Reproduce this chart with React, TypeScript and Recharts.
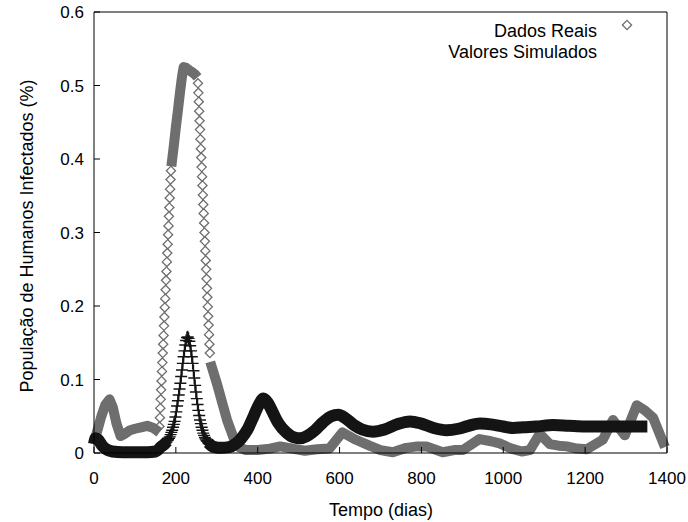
import { LineChart, Line, XAxis, YAxis, Label } from 'recharts';

const FONT = '"Liberation Sans", Arial, Helvetica, sans-serif';
const GRAY = '#6e6e6e';
const BLACK = '#141414';

const xTicks = [0, 200, 400, 600, 800, 1000, 1200, 1400];
const yTicks = [0, 0.1, 0.2, 0.3, 0.4, 0.5, 0.6];

// Dados Reais: stretches where the diamonds overlap into a solid band
const realStartDays = [0, 8, 18, 28, 38, 46, 55, 65, 75, 88, 100, 115, 130, 145, 160];
const realStartValues = [0.014, 0.03, 0.05, 0.066, 0.073, 0.062, 0.04, 0.023, 0.026, 0.031, 0.033, 0.035, 0.037, 0.034, 0.028];

// Dados Reais: rising edge, single diamonds visible
const realRiseDays = [160, 161, 162, 163, 164, 165, 166, 167, 168, 169, 170, 171, 172, 173, 174, 175, 176, 177, 178, 179, 180, 181, 182, 183, 184, 185, 186, 187, 188];
const realRiseValues = [0.036, 0.048, 0.061, 0.073, 0.086, 0.098, 0.111, 0.123, 0.136, 0.148, 0.16, 0.173, 0.185, 0.198, 0.21, 0.222, 0.235, 0.247, 0.26, 0.272, 0.284, 0.297, 0.309, 0.322, 0.334, 0.347, 0.359, 0.372, 0.384];

const realPeakDays = [189, 195, 200, 205, 210, 215, 219, 225, 232, 240, 247, 253];
const realPeakValues = [0.39, 0.418, 0.443, 0.466, 0.49, 0.512, 0.525, 0.524, 0.521, 0.518, 0.515, 0.511];

// Dados Reais: falling edge, single diamonds visible
const realFallDays = [254, 255, 256, 257, 258, 259, 260, 261, 262, 263, 264, 265, 266, 267, 268, 269, 270, 271, 272, 273, 274, 275, 276, 277, 278, 279, 280, 281, 282, 283];
const realFallValues = [0.503, 0.49, 0.478, 0.465, 0.452, 0.44, 0.427, 0.414, 0.402, 0.389, 0.376, 0.364, 0.351, 0.338, 0.326, 0.313, 0.3, 0.288, 0.275, 0.262, 0.25, 0.237, 0.224, 0.212, 0.199, 0.186, 0.174, 0.161, 0.148, 0.136];

const realTailDays = [284, 300, 315, 325, 340, 355, 370, 400, 430, 455, 485, 515, 545, 575, 607, 640, 673, 700, 730, 763, 790, 812, 852, 880, 901, 942, 970, 991, 1020, 1045, 1065, 1089, 1114, 1135, 1155, 1180, 1204, 1243, 1268, 1297, 1326, 1346, 1366, 1385, 1395];
const realTailValues = [0.124, 0.095, 0.065, 0.045, 0.022, 0.008, 0.004, 0.004, 0.006, 0.009, 0.006, 0.003, 0.005, 0.006, 0.028, 0.018, 0.01, 0.004, 0.001, 0.007, 0.009, 0.009, 0.001, 0.004, 0.004, 0.019, 0.016, 0.013, 0.006, 0.002, 0.004, 0.026, 0.012, 0.01, 0.009, 0.006, 0.005, 0.018, 0.045, 0.024, 0.065, 0.058, 0.048, 0.022, 0.008];

// Valores Simulados
const simStartDays = [0, 4, 10, 20, 30, 45, 70, 100, 130, 150, 165, 172, 179];
const simStartValues = [0.012, 0.02, 0.018, 0.01, 0.005, 0.002, 0.001, 0.001, 0.001, 0.002, 0.009, 0.012, 0.016];

const simPeakDays = [165, 167, 169, 171, 173, 175, 177, 179, 181, 183, 185, 187, 189, 191, 193, 195, 197, 199, 201, 203, 205, 207, 209, 211, 213, 215, 217, 219, 221, 223, 225, 227, 229, 231, 233, 235, 237, 239, 241, 243, 245, 247, 249, 251, 253, 255, 257, 259, 261, 263, 265, 267, 269, 271, 273, 275, 277, 279, 281, 283, 285, 287, 289, 291, 293, 295];
const simPeakValues = [0.009, 0.01, 0.011, 0.012, 0.013, 0.014, 0.015, 0.017, 0.018, 0.02, 0.022, 0.025, 0.028, 0.031, 0.035, 0.039, 0.043, 0.049, 0.056, 0.064, 0.071, 0.079, 0.087, 0.095, 0.104, 0.113, 0.122, 0.131, 0.139, 0.147, 0.153, 0.157, 0.158, 0.156, 0.152, 0.146, 0.139, 0.131, 0.122, 0.112, 0.102, 0.092, 0.083, 0.074, 0.066, 0.058, 0.051, 0.045, 0.04, 0.035, 0.031, 0.027, 0.024, 0.021, 0.019, 0.017, 0.016, 0.014, 0.013, 0.012, 0.011, 0.01, 0.009, 0.009, 0.008, 0.008];

const simTailDays = [279, 287, 295, 310, 330, 345, 360, 375, 390, 403, 414, 425, 437, 450, 470, 490, 503, 520, 540, 560, 580, 597, 615, 635, 655, 682, 710, 740, 772, 800, 830, 862, 890, 915, 943, 970, 1000, 1024, 1050, 1080, 1122, 1160, 1200, 1228, 1260, 1290, 1320, 1352];
const simTailValues = [0.014, 0.01, 0.008, 0.007, 0.008, 0.012, 0.02, 0.032, 0.05, 0.066, 0.074, 0.068, 0.055, 0.041, 0.028, 0.021, 0.02, 0.023, 0.031, 0.042, 0.05, 0.052, 0.047, 0.038, 0.032, 0.029, 0.032, 0.039, 0.043, 0.04, 0.034, 0.031, 0.033, 0.037, 0.04, 0.039, 0.036, 0.034, 0.035, 0.036, 0.038, 0.037, 0.036, 0.036, 0.036, 0.036, 0.036, 0.036];

const rows = (days: number[], values: number[]) => days.map((day, i) => ({ day, v: values[i] }));

const realBand = [
  ...rows(realStartDays, realStartValues),
  { day: 175, v: null },
  ...rows(realPeakDays, realPeakValues),
  { day: 268, v: null },
  ...rows(realTailDays, realTailValues),
];
const realRise = rows(realRiseDays, realRiseValues);
const realFall = rows(realFallDays, realFallValues);

const simBand = [
  ...rows(simStartDays, simStartValues),
  { day: 230, v: null },
  ...rows(simTailDays, simTailValues),
];
const simPeak = rows(simPeakDays, simPeakValues);

const Diamond = (props: any) => {
  const { cx, cy, index } = props;
  if (cx == null || cy == null) return <g key={index} />;
  const r = 4.6;
  return (
    <path
      key={index}
      d={`M${cx},${cy - r}L${cx + r},${cy}L${cx},${cy + r}L${cx - r},${cy}Z`}
      fill="none"
      stroke={GRAY}
      strokeWidth={1.3}
    />
  );
};

const Cross = (props: any) => {
  const { cx, cy, index } = props;
  if (cx == null || cy == null) return <g key={index} />;
  const r = 6;
  return (
    <path
      key={index}
      d={`M${cx - r},${cy}H${cx + r}M${cx},${cy - r}V${cy + r}`}
      stroke={BLACK}
      strokeWidth={1.4}
    />
  );
};

const tickStyle = { fill: '#000', fontSize: 17, fontFamily: FONT };

export default function App() {
  return (
    <div style={{ position: 'absolute', left: 0, top: 0, width: 688, height: 522, background: '#fff' }}>
      <LineChart width={688} height={522} margin={{ top: 11, right: 20, bottom: 0, left: 0 }}>
        <XAxis
          xAxisId="b"
          type="number"
          dataKey="day"
          domain={[0, 1400]}
          ticks={xTicks}
          height={69}
          stroke="#000"
          tickSize={-6}
          tickMargin={25}
          tick={tickStyle}
        >
          <Label
            content={() => (
              <text x={381} y={516} textAnchor="middle" fontSize={18} fontFamily={FONT} fill="#000">
                Tempo (dias)
              </text>
            )}
          />
        </XAxis>
        <XAxis
          xAxisId="t"
          orientation="top"
          type="number"
          dataKey="day"
          domain={[0, 1400]}
          ticks={xTicks}
          height={1}
          stroke="#000"
          tickSize={-6}
          tick={false}
        />
        <YAxis
          yAxisId="l"
          type="number"
          domain={[0, 0.6]}
          ticks={yTicks}
          width={94}
          stroke="#000"
          tickSize={-6}
          tickMargin={16}
          tick={tickStyle}
          tickFormatter={(v: number) => String(v)}
        >
          <Label
            content={() => (
              <text
                x={27}
                y={236}
                transform="rotate(-90 27 236)"
                textAnchor="middle"
                dominantBaseline="central"
                fontSize={18}
                fontFamily={FONT}
                fill="#000"
              >
                População de Humanos Infectados (%)
              </text>
            )}
          />
        </YAxis>
        <YAxis
          yAxisId="r"
          orientation="right"
          type="number"
          domain={[0, 0.6]}
          ticks={yTicks}
          width={1}
          stroke="#000"
          tickSize={-6}
          tick={false}
        />

        <Line
          xAxisId="b"
          yAxisId="l"
          data={realBand}
          dataKey="v"
          type="linear"
          stroke={GRAY}
          strokeWidth={10}
          strokeLinejoin="round"
          dot={false}
          activeDot={false}
          isAnimationActive={false}
        />
        <Line
          xAxisId="b"
          yAxisId="l"
          data={realRise}
          dataKey="v"
          stroke="none"
          dot={(p: any) => <Diamond {...p} key={`r${p.index}`} />}
          activeDot={false}
          isAnimationActive={false}
        />
        <Line
          xAxisId="b"
          yAxisId="l"
          data={realFall}
          dataKey="v"
          stroke="none"
          dot={(p: any) => <Diamond {...p} key={`f${p.index}`} />}
          activeDot={false}
          isAnimationActive={false}
        />
        <Line
          xAxisId="b"
          yAxisId="l"
          data={simBand}
          dataKey="v"
          type="monotone"
          stroke={BLACK}
          strokeWidth={12}
          strokeLinejoin="round"
          dot={false}
          activeDot={false}
          isAnimationActive={false}
        />
        <Line
          xAxisId="b"
          yAxisId="l"
          data={simPeak}
          dataKey="v"
          type="linear"
          stroke={BLACK}
          strokeWidth={1.5}
          dot={(p: any) => <Cross {...p} key={`c${p.index}`} />}
          activeDot={false}
          isAnimationActive={false}
        />
      </LineChart>

      <div style={{ position: 'absolute', right: 91, top: 22, fontFamily: FONT, fontSize: 18, lineHeight: '18px', textAlign: 'right', whiteSpace: 'nowrap' }}>
        Dados Reais
      </div>
      <svg style={{ position: 'absolute', left: 621, top: 19 }} width={12} height={12}>
        <path d="M6,1.4L10.6,6L6,10.6L1.4,6Z" fill="none" stroke={GRAY} strokeWidth={1.3} />
      </svg>
      <div style={{ position: 'absolute', right: 91, top: 43, fontFamily: FONT, fontSize: 18, lineHeight: '18px', textAlign: 'right', whiteSpace: 'nowrap' }}>
        Valores Simulados
      </div>
    </div>
  );
}
